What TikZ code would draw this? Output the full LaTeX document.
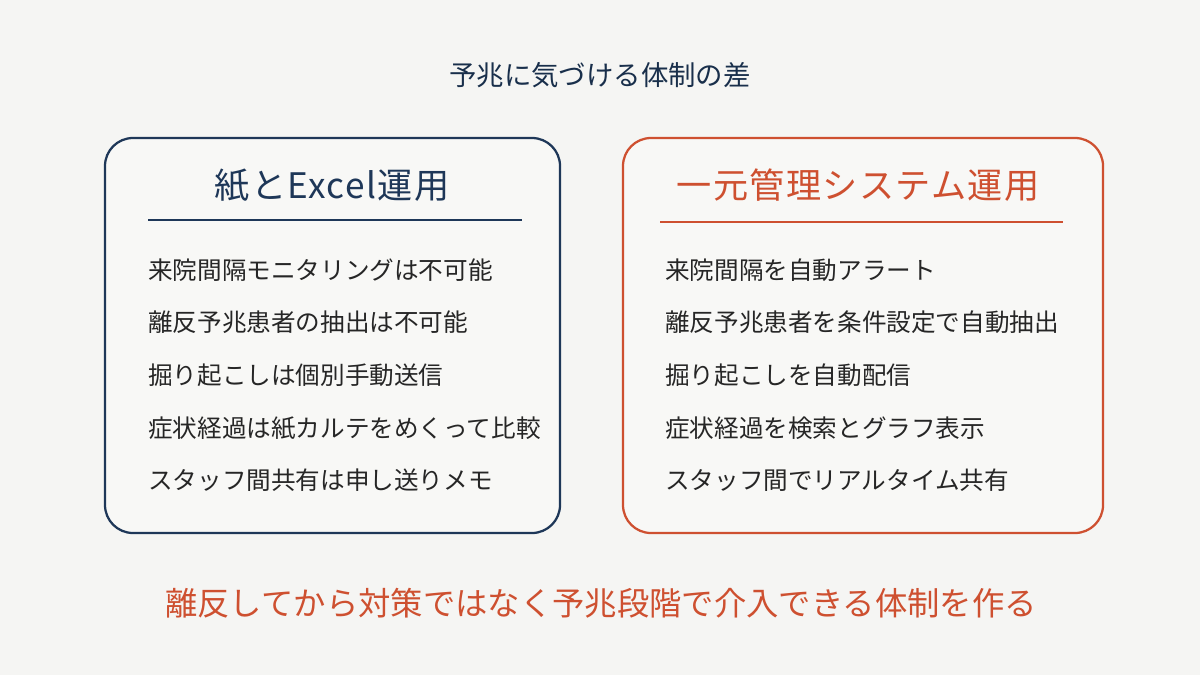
\documentclass[tikz,border=0pt]{standalone}
\usepackage{fontspec}
\setmainfont{Noto Sans CJK JP}
\usepackage{tikz}
\usetikzlibrary{positioning}
\definecolor{gapNavy}{RGB}{30,55,88}
\definecolor{gapOrange}{RGB}{206,80,48}
\definecolor{gapPaper}{RGB}{245,245,243}
\definecolor{gapInner}{RGB}{248,248,246}

\begin{document}
\begin{tikzpicture}[
    panel/.style={rounded corners=0.7cm, line width=1.6pt, fill=gapInner, minimum height=9.875cm},
    head/.style={font=\fontsize{25}{28}\selectfont\addfontfeature{LetterSpace=4}, anchor=center},
    item/.style={font=\fontsize{17.5}{20}\selectfont, anchor=west, inner sep=0pt, text=black!85},
    rule/.style={line width=1.2pt}
  ]
    \fill[gapPaper] (0,0) rectangle (30,16.875);
    \useasboundingbox (0,0) rectangle (30,16.875);

    \node[font=\fontsize{19.5}{22}\selectfont, text=gapNavy!85!black] (title) at (15,14.99) {予兆に気づける体制の差};

    % left panel
    \node[panel, draw=gapNavy, minimum width=11.375cm] (paper) at (8.3125,8.4875) {};
    \node[head, text=gapNavy] (paperhead) at (8.3,12.25) {紙とExcel運用};
    \coordinate (paperruleA) at (3.7,11.375);
    \coordinate (paperruleB) at (13.05,11.375);
    \draw[rule, gapNavy] (paperruleA) -- (paperruleB);
    \node[item] (p1) at (3.7,10.125) {来院間隔モニタリングは不可能};
    \node[item] (p2) at (3.7,8.825) {離反予兆患者の抽出は不可能};
    \node[item] (p3) at (3.7,7.5) {掘り起こしは個別手動送信};
    \node[item] (p4) at (3.7,6.175) {症状経過は紙カルテをめくって比較};
    \node[item] (p5) at (3.7,4.875) {スタッフ間共有は申し送りメモ};

    % right panel
    \node[panel, draw=gapOrange, minimum width=12cm] (system) at (21.575,8.4875) {};
    \node[head, text=gapOrange] (systemhead) at (21.45,12.25) {一元管理システム運用};
    \coordinate (systemruleA) at (16.5,11.325);
    \coordinate (systemruleB) at (26.575,11.325);
    \draw[rule, gapOrange] (systemruleA) -- (systemruleB);
    \node[item] (s1) at (16.625,10.125) {来院間隔を自動アラート};
    \node[item] (s2) at (16.625,8.825) {離反予兆患者を条件設定で自動抽出};
    \node[item] (s3) at (16.625,7.5) {掘り起こしを自動配信};
    \node[item] (s4) at (16.625,6.175) {症状経過を検索とグラフ表示};
    \node[item] (s5) at (16.625,4.875) {スタッフ間でリアルタイム共有};

    \node[font=\fontsize{23}{26}\selectfont, text=gapOrange] (goal) at (15.025,1.8) {離反してから対策ではなく予兆段階で介入できる体制を作る};
  \end{tikzpicture}
\end{document}
